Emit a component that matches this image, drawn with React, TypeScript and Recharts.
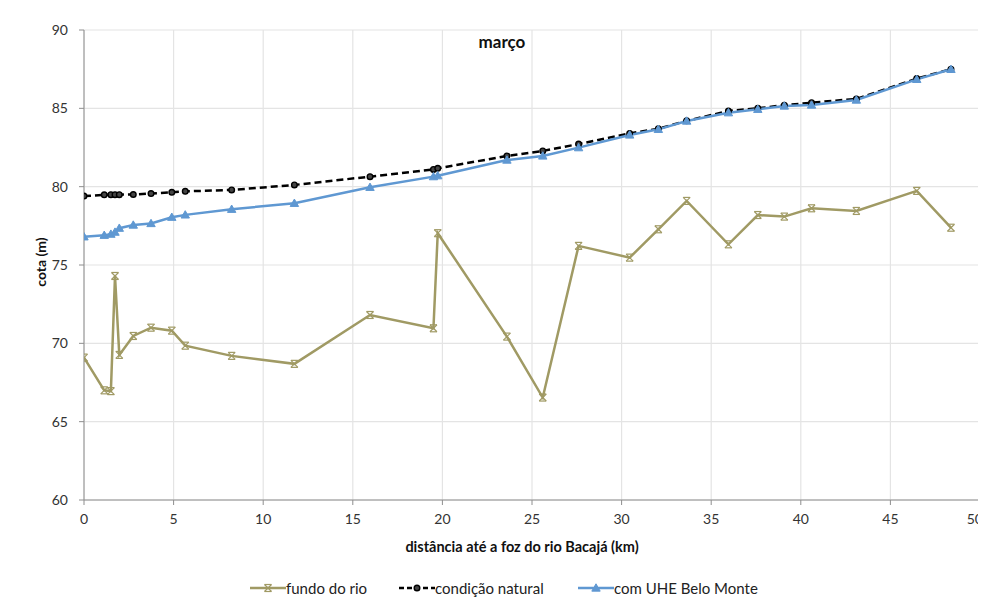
import { CartesianGrid, Line, LineChart, XAxis, YAxis } from "recharts";

const distancia = [
  0, 1.13, 1.5, 1.73, 1.97, 2.75, 3.74, 4.9, 5.65, 8.24, 11.74, 15.96, 19.5, 19.74,
  23.6, 25.6, 27.6, 30.45, 32.05, 33.63, 35.96, 37.6, 39.08, 40.6, 43.1, 46.47, 48.38,
];
const fundoDoRio = [
  69.09, 67.0, 66.95, 74.3, 69.26, 70.47, 71.0, 70.81, 69.85, 69.2, 68.69, 71.81, 70.96, 77.03,
  70.43, 66.54, 76.22, 75.47, 77.28, 79.09, 76.32, 78.19, 78.09, 78.62, 78.45, 79.73, 77.38,
];
const condicaoNatural = [
  79.4, 79.48, 79.49, 79.49, 79.49, 79.5, 79.56, 79.64, 79.7, 79.79, 80.11, 80.64, 81.1, 81.17,
  81.96, 82.28, 82.72, 83.4, 83.7, 84.2, 84.83, 85.0, 85.2, 85.36, 85.6, 86.9, 87.5,
];
const comUHE = [
  76.8, 76.9, 76.97, 77.1, 77.35, 77.55, 77.65, 78.05, 78.2, 78.56, 78.94, 79.96, 80.64, 80.7,
  81.7, 81.96, 82.49, 83.3, 83.66, 84.19, 84.72, 84.94, 85.15, 85.21, 85.53, 86.85, 87.49,
];
const xTicks = [0, 5, 10, 15, 20, 25, 30, 35, 40, 45, 50];
const yTicks = [60, 65, 70, 75, 80, 85, 90];

const OLIVE = "#A09A64";
const BLUE = "#5F98D2";
const FONT = "Lato, 'Open Sans', sans-serif";

const toPoints = (vals: number[]) => distancia.map((x, i) => ({ x, y: vals[i] }));

const CrossDot = (props: any) => {
  const { cx, cy } = props;
  if (cx == null || cy == null) return null;
  const s = 3.5;
  return (
    <g stroke={OLIVE} strokeWidth={1.2} fill="none">
      <line x1={cx - s} y1={cy - s} x2={cx + s} y2={cy + s} />
      <line x1={cx - s} y1={cy + s} x2={cx + s} y2={cy - s} />
      <line x1={cx - s} y1={cy - s} x2={cx + s} y2={cy - s} />
      <line x1={cx - s} y1={cy + s} x2={cx + s} y2={cy + s} />
    </g>
  );
};

const CircleDot = (props: any) => {
  const { cx, cy } = props;
  if (cx == null || cy == null) return null;
  return <circle cx={cx} cy={cy} r={2.8} fill="#444" stroke="#000" strokeWidth={1.4} />;
};

const TriDot = (props: any) => {
  const { cx, cy } = props;
  if (cx == null || cy == null) return null;
  const s = 4.2;
  return (
    <path
      d={`M${cx},${cy - s} L${cx + s},${cy + s * 0.75} L${cx - s},${cy + s * 0.75} Z`}
      fill={BLUE}
      stroke={BLUE}
    />
  );
};

// last label would run off the page, so anchor it at its end
const XTick = (props: any) => {
  const { x, y, payload } = props;
  const last = payload.value === xTicks[xTicks.length - 1];
  return (
    <text
      x={last ? x + 3 : x}
      y={y}
      dy="0.71em"
      textAnchor={last ? "end" : "middle"}
      fontSize={14}
      fill="#333"
      fontFamily={FONT}
    >
      {payload.value}
    </text>
  );
};

const ChartLegend = () => {
  const item = (label: string, sample: React.ReactNode, width: number) => (
    <span style={{ display: "inline-flex", alignItems: "center", width }}>
      <svg width={36} height={10}>
        {sample}
      </svg>
      <span>{label}</span>
    </span>
  );
  return (
    <div
      style={{
        position: "absolute",
        left: 242,
        top: 571,
        fontFamily: FONT,
        fontSize: 15,
        color: "#222",
        display: "flex",
        alignItems: "center",
        whiteSpace: "nowrap",
      }}
    >
      {item(
        "fundo do rio",
        <g>
          <line x1={0} y1={5} x2={36} y2={5} stroke={OLIVE} strokeWidth={2.5} />
          <CrossDot cx={18} cy={5} />
        </g>,
        149
      )}
      {item(
        "condição natural",
        <g>
          <line x1={0} y1={5} x2={36} y2={5} stroke="#000" strokeWidth={2.5} strokeDasharray="5 3" />
          <CircleDot cx={18} cy={5} />
        </g>,
        179
      )}
      {item(
        "com UHE Belo Monte",
        <g>
          <line x1={0} y1={5} x2={36} y2={5} stroke={BLUE} strokeWidth={2.5} />
          <TriDot cx={18} cy={5} />
        </g>,
        190
      )}
    </div>
  );
};

export default function App() {
  return (
    <div style={{ position: "relative", width: 978, height: 592 }}>
      <div style={{ position: "absolute", left: -1, top: -8, width: 1, height: 600, background: "#d0d0d0" }} />
      <LineChart
        width={978}
        height={560}
        margin={{ top: 22, right: 6, left: 0, bottom: 38 }}
        style={{ fontFamily: FONT }}
      >
        <CartesianGrid stroke="#E4E4E4" strokeWidth={1.2} verticalValues={xTicks} horizontalValues={yTicks} />
        <XAxis
          type="number"
          dataKey="x"
          domain={[0, 50]}
          ticks={xTicks}
          height={30}
          tickSize={5}
          tickMargin={9}
          axisLine={{ stroke: "#8E8E8E" }}
          tickLine={{ stroke: "#8E8E8E" }}
          tick={<XTick />}
          interval={0}
          allowDataOverflow
        />
        <YAxis
          type="number"
          domain={[60, 90]}
          ticks={yTicks}
          width={76}
          tickSize={5}
          tickMargin={11}
          axisLine={{ stroke: "#8E8E8E" }}
          tickLine={{ stroke: "#8E8E8E" }}
          tick={{ fontSize: 14, fill: "#333" }}
          allowDataOverflow
        />
        <Line
          data={toPoints(fundoDoRio)}
          dataKey="y"
          name="fundo do rio"
          stroke={OLIVE}
          strokeWidth={2.5}
          dot={<CrossDot />}
          activeDot={false}
          isAnimationActive={false}
        />
        <Line
          data={toPoints(condicaoNatural)}
          dataKey="y"
          name="condição natural"
          stroke="#000"
          strokeWidth={2.5}
          strokeDasharray="7 4"
          dot={<CircleDot />}
          activeDot={false}
          isAnimationActive={false}
        />
        <Line
          data={toPoints(comUHE)}
          dataKey="y"
          name="com UHE Belo Monte"
          stroke={BLUE}
          strokeWidth={2.5}
          dot={<TriDot />}
          activeDot={false}
          isAnimationActive={false}
        />
      </LineChart>
      <div
        style={{
          position: "absolute",
          left: 394,
          width: 200,
          top: 23,
          textAlign: "center",
          fontFamily: FONT,
          fontSize: 17,
          fontWeight: "bold",
          color: "#111",
        }}
      >
        março
      </div>
      <div
        style={{
          position: "absolute",
          left: 0,
          width: 1028,
          top: 530,
          textAlign: "center",
          fontFamily: FONT,
          fontSize: 14.5,
          fontWeight: "bold",
          color: "#111",
        }}
      >
        distância até a foz do rio Bacajá (km)
      </div>
      <div
        style={{
          position: "absolute",
          left: 32,
          top: 254,
          transform: "translate(-50%, -50%) rotate(-90deg)",
          fontFamily: FONT,
          fontSize: 14,
          fontWeight: "bold",
          color: "#111",
          whiteSpace: "nowrap",
        }}
      >
        cota (m)
      </div>
      <ChartLegend />
    </div>
  );
}
